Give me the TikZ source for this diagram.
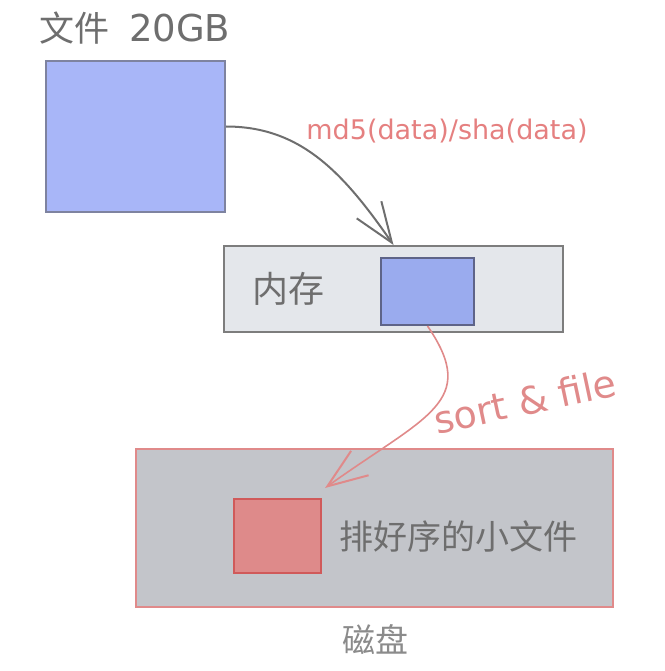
\documentclass[tikz,border=0pt]{standalone}
\usepackage{fontspec}
\usepackage{xcolor}
\usetikzlibrary{arrows.meta}
\newfontfamily\cjk{Noto Sans CJK SC}
\newfontfamily\hand{DejaVu Sans}

\definecolor{fileblue}{HTML}{A8B6F8}
\definecolor{chunkblue}{HTML}{9AABEE}
\definecolor{blueline}{HTML}{5E6488}
\definecolor{memgray}{HTML}{E4E7EB}
\definecolor{diskgray}{HTML}{C3C5CA}
\definecolor{diskline}{HTML}{E08A8A}
\definecolor{sortred}{HTML}{DE8A8A}
\definecolor{redline}{HTML}{D05A5A}
\definecolor{notered}{HTML}{E58080}
\definecolor{textgray}{HTML}{6E6E6E}

\begin{document}
\begin{tikzpicture}[
    x=1pt, y=-1pt,
    block/.style={rectangle, draw, line width=2pt, inner sep=0pt, anchor=north west},
    label/.style={inner sep=0pt, text=textgray, font=\cjk\fontsize{34}{36}\selectfont},
    flow/.style={line width=2pt, -{Straight Barb[length=40pt, width=30pt, line width=2pt]}}
]
\useasboundingbox (0,0) rectangle (664,671);

% top: the big file
\node[label, anchor=west, font=\cjk\fontsize{35}{38}\selectfont] (title) at (39,28) {文件\hspace{20pt}{\hand\fontsize{37}{40}\selectfont 20GB}};
\node[block, fill=fileblue, draw=blueline!80, minimum width=179pt, minimum height=151pt] (file) at (45,60) {};

% memory
\node[block, fill=memgray, draw=textgray!90, minimum width=339pt, minimum height=86pt] (mem) at (223,245) {};
\node[label, font=\cjk\fontsize{36}{38}\selectfont] (memtext) at (288,289) {内存};
\node[block, fill=chunkblue, draw=blueline, minimum width=93pt, minimum height=67pt] (chunk) at (380,257) {};

% disk
\node[block, fill=diskgray, draw=diskline, minimum width=477pt, minimum height=158pt] (disk) at (135,448) {};
\node[block, fill=sortred, draw=redline, minimum width=87pt, minimum height=74pt] (sorted) at (233,498) {};
\node[label, anchor=west] (sortedtext) at (339,537) {排好序的小文件};
\node[label, text=textgray!80, font=\cjk\fontsize{33}{36}\selectfont] (disktext) at (375,640) {磁盘};

% arrows
\draw[flow, draw=textgray] ([yshift=10pt]file.east) .. controls +(75,0) and +(-50,-72) .. (mem.north);
\node[inner sep=0pt, text=notered, font=\hand\fontsize{27}{30}\selectfont] (hashtext) at (447,131) {md5(data)/sha(data)};

\draw[flow, draw=diskline, line width=1.6pt] (chunk.south) .. controls +(52,76) and +(102,-73) .. ([shift={(3pt,10pt)}]sorted.north east);
\node[inner sep=0pt, text=diskline, rotate=12, font=\hand\fontsize{38}{40}\selectfont] (sorttext) at (525,401) {sort \& file};

\end{tikzpicture}
\end{document}
